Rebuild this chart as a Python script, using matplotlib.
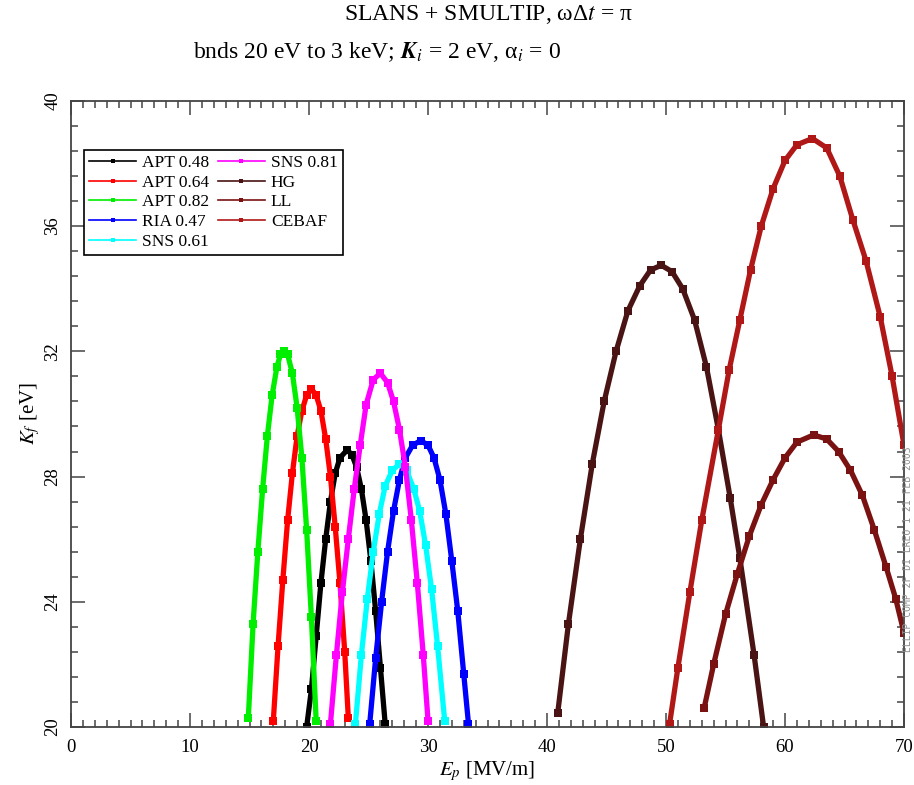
import matplotlib
matplotlib.use('Agg')
import matplotlib.pyplot as plt
from matplotlib.ticker import MultipleLocator

plt.rcParams['font.family'] = 'serif'
plt.rcParams['font.serif'] = ['Liberation Serif', 'DejaVu Serif']
plt.rcParams['mathtext.fontset'] = 'stix'

# final kinetic energy K_f [eV] vs peak surface field E_p [MV/m]
apt048_x = [19.8, 20.2, 20.6, 21.0, 21.4, 21.8, 22.2, 22.6, 23.2, 23.6, 24.0, 24.4, 24.8, 25.2, 25.6, 26.0, 26.4]
apt048_y = [20.0, 21.2, 22.9, 24.6, 26.0, 27.2, 28.1, 28.6, 28.85, 28.7, 28.3, 27.6, 26.6, 25.3, 23.7, 21.9, 20.1]

apt064_x = [17.0, 17.4, 17.8, 18.2, 18.6, 19.0, 19.4, 19.8, 20.2, 20.6, 21.0, 21.4, 21.8, 22.2, 22.6, 23.0, 23.3]
apt064_y = [20.2, 22.6, 24.7, 26.6, 28.1, 29.3, 30.1, 30.6, 30.8, 30.6, 30.1, 29.2, 28.0, 26.4, 24.6, 22.4, 20.3]

apt082_x = [14.9, 15.3, 15.7, 16.1, 16.5, 16.9, 17.3, 17.6, 17.9, 18.2, 18.6, 19.0, 19.4, 19.8, 20.2, 20.6]
apt082_y = [20.3, 23.3, 25.6, 27.6, 29.3, 30.6, 31.5, 31.9, 32.0, 31.9, 31.3, 30.2, 28.6, 26.3, 23.5, 20.2]

ria047_x = [25.1, 25.6, 26.1, 26.6, 27.1, 27.6, 28.1, 28.7, 29.4, 30.0, 30.5, 31.0, 31.5, 32.0, 32.5, 33.0, 33.4]
ria047_y = [20.1, 22.2, 24.0, 25.6, 26.9, 27.9, 28.6, 29.0, 29.15, 29.0, 28.6, 27.9, 26.8, 25.3, 23.7, 21.7, 20.1]

sns061_x = [23.9, 24.4, 24.9, 25.4, 25.9, 26.4, 27.0, 27.6, 28.2, 28.8, 29.3, 29.8, 30.3, 30.8, 31.4]
sns061_y = [20.1, 22.3, 24.1, 25.6, 26.8, 27.7, 28.2, 28.4, 28.2, 27.6, 26.9, 25.8, 24.4, 22.6, 20.2]

sns081_x = [21.8, 22.3, 22.8, 23.3, 23.8, 24.3, 24.8, 25.4, 26.0, 26.6, 27.1, 27.6, 28.1, 28.6, 29.1, 29.6, 30.0]
sns081_y = [20.1, 22.3, 24.3, 26.0, 27.6, 29.0, 30.3, 31.1, 31.3, 31.0, 30.4, 29.5, 28.3, 26.6, 24.6, 22.3, 20.2]

hg_x = [40.9, 41.8, 42.8, 43.8, 44.8, 45.8, 46.8, 47.8, 48.7, 49.6, 50.5, 51.4, 52.4, 53.4, 54.4, 55.4, 56.2, 57.4, 58.2]
hg_y = [20.45, 23.3, 26.0, 28.4, 30.4, 32.0, 33.3, 34.1, 34.6, 34.75, 34.55, 34.0, 33.0, 31.5, 29.5, 27.3, 25.4, 22.3, 20.0]

ll_x = [53.2, 54.0, 55.0, 56.0, 57.0, 58.0, 59.0, 60.0, 61.0, 62.4, 63.5, 64.5, 65.5, 66.5, 67.5, 68.5, 69.3, 70.0]
ll_y = [20.6, 22.0, 23.6, 24.9, 26.1, 27.1, 27.9, 28.6, 29.1, 29.33, 29.2, 28.8, 28.2, 27.4, 26.3, 25.1, 24.1, 23.0]

cebaf_x = [50.3, 51.0, 52.0, 53.0, 54.4, 55.3, 56.2, 57.1, 58.0, 59.0, 60.0, 61.0, 62.3, 63.5, 64.6, 65.7, 66.8, 68.0, 69.0, 70.0]
cebaf_y = [20.1, 21.9, 24.3, 26.6, 29.5, 31.4, 33.0, 34.6, 36.0, 37.2, 38.1, 38.6, 38.8, 38.5, 37.6, 36.2, 34.9, 33.1, 31.2, 29.0]

series = [
    ('APT 0.48', apt048_x, apt048_y, 'black'),
    ('APT 0.64', apt064_x, apt064_y, '#ff0000'),
    ('APT 0.82', apt082_x, apt082_y, '#00ee00'),
    ('RIA 0.47', ria047_x, ria047_y, '#0000ff'),
    ('SNS 0.61', sns061_x, sns061_y, '#00ffff'),
    ('SNS 0.81', sns081_x, sns081_y, '#ff00ff'),
    ('HG', hg_x, hg_y, '#4a1414'),
    ('LL', ll_x, ll_y, '#7a1212'),
    ('CEBAF', cebaf_x, cebaf_y, '#b01818'),
]

fig = plt.figure(figsize=(9.14, 7.85), dpi=100)
ax = fig.add_axes([0.0777, 0.0739, 0.9114, 0.7975])

for label, xs, ys, col in series:
    ax.plot(xs, ys, '-s', color=col, lw=3.8, ms=5.5, mew=0, label=label)

ax.set_xlim(0, 70)
ax.set_ylim(20, 40)
ax.xaxis.set_major_locator(MultipleLocator(10))
ax.xaxis.set_minor_locator(MultipleLocator(1))
ax.yaxis.set_major_locator(MultipleLocator(4))
ax.yaxis.set_minor_locator(MultipleLocator(0.8))
ax.tick_params(which='both', direction='in', top=True, right=True, color='#444444', width=1.1)
ax.tick_params(which='major', length=10, labelsize=13.5)
ax.tick_params(axis='x', which='major', pad=9)
ax.tick_params(axis='y', which='major', pad=7)
ax.tick_params(which='minor', length=5)
for lab in ax.get_yticklabels():
    lab.set_rotation(90)
    lab.set_va('center')
for sp in ax.spines.values():
    sp.set_color('#444444')
    sp.set_linewidth(1.3)

ax.set_xlabel('$E_p$ [MV/m]', fontsize=15, labelpad=2)
ax.set_ylabel('$K_f$ [eV]', fontsize=15, labelpad=2)

leg = ax.legend(ncol=2, loc='upper left', bbox_to_anchor=(0.0155, 0.922), fontsize=12.5,
                frameon=True, fancybox=False, edgecolor='black', framealpha=1,
                handlelength=2.7, handletextpad=0.35, columnspacing=0.5,
                labelspacing=0.2, borderpad=0.3, borderaxespad=0, markerscale=0.6)
leg.get_frame().set_linewidth(1.2)
for h in leg.get_lines():
    h.set_linewidth(1.2)

fig.text(0.534, 0.981, 'SLANS + SMULTIP, ωΔ$t$ = π', ha='center', va='center', fontsize=17)
fig.text(0.4125, 0.934, 'bnds 20 eV to 3 keV; $\\boldsymbol{K}_i$ = 2 eV, α$_i$ = 0',
         ha='center', va='center', fontsize=17)

# plot stamp along the right edge
fig.text(0.9938, 0.30, 'ELLIP COMP 2F DI LREO 1 21 FEB 2003', rotation=90,
         ha='center', va='center', fontsize=7, color='#909090', family='DejaVu Sans Mono')

fig.savefig('out.png', dpi=100)
